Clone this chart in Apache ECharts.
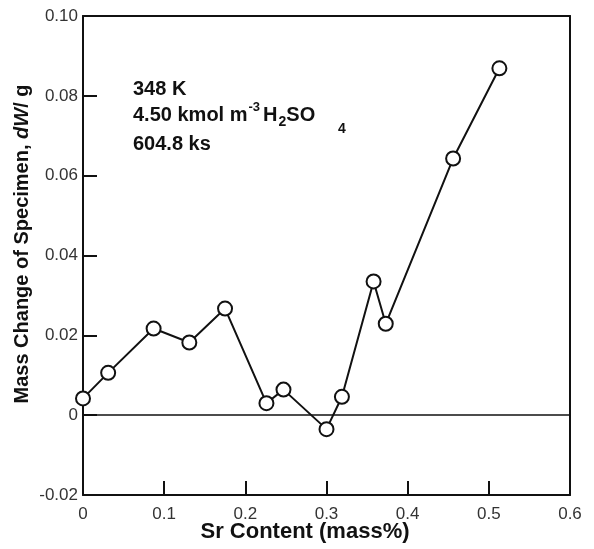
<!DOCTYPE html>
<html>
<head>
<meta charset="utf-8">
<script src="https://cdn.jsdelivr.net/npm/echarts@6/dist/echarts.min.js"></script>
<style>
  html, body { margin: 0; padding: 0; background: #fff; }
  #main { width: 594px; height: 549px; }
</style>
</head>
<body>
<div id="main"></div>
<script>
// Sr content (mass%) vs mass change (g)
const srContent = [0, 0.031, 0.087, 0.131, 0.175, 0.226, 0.247, 0.300, 0.319, 0.358, 0.373, 0.456, 0.513];
const massChange = [0.0042, 0.0106, 0.0217, 0.0182, 0.0267, 0.0030, 0.0064, -0.0035, 0.0046, 0.0335, 0.0229, 0.0643, 0.0869];

const xTicks = { min: 0, max: 0.6, interval: 0.1 };
const yTicks = { min: -0.02, max: 0.10, interval: 0.02 };

const font = 'Liberation Sans, Arial, Helvetica, sans-serif';
const ink = '#111';

const chart = echarts.init(document.getElementById('main'), null, { renderer: 'canvas' });

const points = srContent.map((x, i) => [x, massChange[i]]);

// plain axis used for the top / right frame lines
function frameAxis(pos, t) {
  return {
    type: 'value',
    position: pos,
    min: t.min,
    max: t.max,
    axisLine: { show: true, onZero: false, lineStyle: { color: ink, width: 2 } },
    axisTick: { show: false },
    axisLabel: { show: false },
    splitLine: { show: false }
  };
}

const option = {
  animation: false,
  grid: { left: 83, right: 24, top: 16, bottom: 54 },
  xAxis: [
    {
      type: 'value',
      min: xTicks.min,
      max: xTicks.max,
      interval: xTicks.interval,
      axisLine: { show: true, onZero: false, lineStyle: { color: ink, width: 2 } },
      axisTick: { show: true, inside: true, length: 14, lineStyle: { color: ink, width: 2 } },
      axisLabel: {
        fontFamily: font, fontSize: 17, color: '#333', margin: 11,
        formatter: v => v === 0 ? '0' : v.toFixed(1)
      },
      splitLine: { show: false }
    },
    frameAxis('top', xTicks)
  ],
  yAxis: [
    {
      type: 'value',
      min: yTicks.min,
      max: yTicks.max,
      interval: yTicks.interval,
      axisLine: { show: true, onZero: false, lineStyle: { color: ink, width: 2 } },
      axisTick: { show: true, inside: true, length: 14, lineStyle: { color: ink, width: 2 } },
      axisLabel: {
        fontFamily: font, fontSize: 17, color: '#333', margin: 5,
        formatter: v => Math.abs(v) < 1e-9 ? '0' : v.toFixed(2)
      },
      splitLine: { show: false }
    },
    frameAxis('right', yTicks)
  ],
  graphic: [
    // axis titles
    {
      type: 'text',
      x: 305,
      y: 532,
      style: {
        text: 'Sr Content (mass%)',
        font: 'bold 22px ' + font,
        fill: ink,
        align: 'center',
        verticalAlign: 'middle'
      }
    },
    {
      type: 'text',
      x: 22,
      y: 244,
      rotation: Math.PI / 2,
      style: {
        text: '{b|Mass Change of Specimen, }{i|dW}{b|/ g}',
        align: 'center',
        verticalAlign: 'middle',
        rich: {
          b: { fontFamily: font, fontSize: 20, fontWeight: 'bold', fill: ink },
          i: { fontFamily: font, fontSize: 20, fontWeight: 'bold', fontStyle: 'italic', fill: ink }
        }
      }
    },
    // condition notes
    {
      type: 'text',
      x: 133,
      y: 89,
      style: {
        text: '348 K',
        font: 'bold 20px ' + font,
        fill: ink,
        verticalAlign: 'middle'
      }
    },
    {
      type: 'text',
      x: 133,
      y: 115,
      style: {
        text: '{b|4.50 kmol m}{sup|-3}{b|H}{sub|2}{b|SO}',
        verticalAlign: 'middle',
        rich: {
          b: { fontFamily: font, fontSize: 20, fontWeight: 'bold', fill: ink, lineHeight: 28, verticalAlign: 'middle' },
          sup: { fontFamily: font, fontSize: 13, fontWeight: 'bold', fill: ink, lineHeight: 14, verticalAlign: 'top', padding: [0, 3, 0, 1] },
          sub: { fontFamily: font, fontSize: 14, fontWeight: 'bold', fill: ink, lineHeight: 16, verticalAlign: 'bottom', padding: [0, 0, 0, 1] }
        }
      }
    },
    {
      type: 'text',
      x: 342,
      y: 129,
      style: {
        text: '4',
        font: 'bold 14px ' + font,
        fill: ink,
        align: 'center',
        verticalAlign: 'middle'
      }
    },
    {
      type: 'text',
      x: 133,
      y: 144,
      style: {
        text: '604.8 ks',
        font: 'bold 20px ' + font,
        fill: ink,
        verticalAlign: 'middle'
      }
    }
  ],
  series: [
    {
      type: 'line',
      data: points,
      symbol: 'circle',
      symbolSize: 14,
      lineStyle: { color: ink, width: 2 },
      itemStyle: { color: '#fff', borderColor: ink, borderWidth: 2 },
      z: 3,
      markLine: {
        silent: true,
        symbol: 'none',
        label: { show: false },
        lineStyle: { color: ink, width: 1.5, type: 'solid' },
        data: [{ yAxis: 0 }],
        z: 1
      }
    }
  ]
};

chart.setOption(option);
</script>
</body>
</html>
